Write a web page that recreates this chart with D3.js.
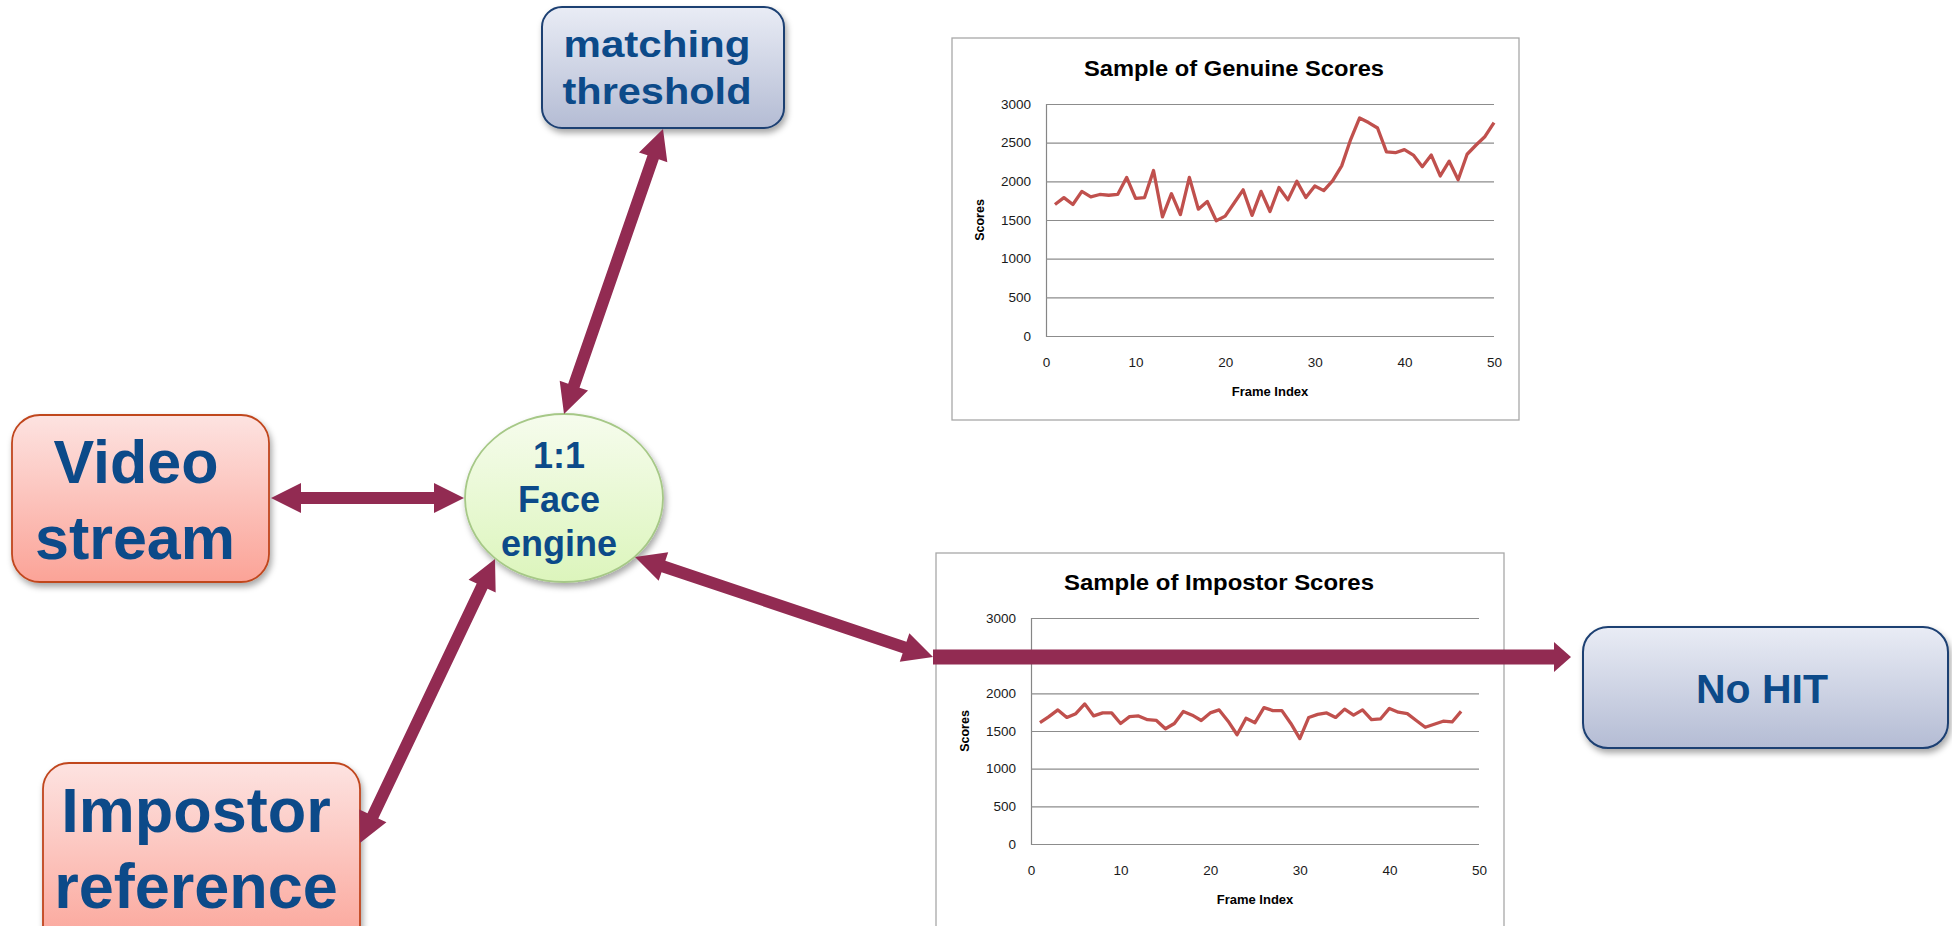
<!DOCTYPE html>
<html>
<head>
<meta charset="utf-8">
<script src="https://cdn.jsdelivr.net/npm/d3@7"></script>
<style>
  html, body { margin: 0; padding: 0; background: #fff; }
  svg { display: block; }
</style>
</head>
<body>
<svg id="chart" width="1952" height="926"></svg>
<script>
// scores per frame, frame index = position + 1
const genuineScores = [1700, 1790, 1700, 1870, 1800, 1830, 1820, 1830, 2050, 1780,
  1790, 2140, 1540, 1840, 1570, 2050, 1640, 1740, 1490, 1550,
  1720, 1890, 1560, 1870, 1610, 1920, 1760, 2000, 1790, 1940,
  1880, 2010, 2200, 2540, 2820, 2760, 2690, 2380, 2370, 2410,
  2340, 2190, 2340, 2070, 2260, 2020, 2350, 2470, 2580, 2760];

const impostorScores = [1610, 1690, 1780, 1680, 1730, 1860, 1700, 1740, 1740, 1600,
  1690, 1700, 1650, 1640, 1530, 1600, 1760, 1710, 1640, 1740,
  1780, 1630, 1450, 1670, 1610, 1810, 1770, 1770, 1600, 1400,
  1680, 1720, 1740, 1680, 1790, 1710, 1780, 1650, 1660, 1800,
  1750, 1730, 1640, 1550, 1590, 1630, 1620, 1760];

const xTicks = [0, 10, 20, 30, 40, 50];
const yTicks = [0, 500, 1000, 1500, 2000, 2500, 3000];

const ARROW = '#922b52';
const TEXT_BLUE = '#0c4a89';
const LINE_RED = '#c0504d';

const svg = d3.select('#chart');
const defs = svg.append('defs');

// градиенты для блоков схемы
const gradient = (id, top, bottom) => {
  const lg = defs.append('linearGradient').attr('id', id)
    .attr('x1', 0).attr('y1', 0).attr('x2', 0).attr('y2', 1);
  lg.append('stop').attr('offset', '0%').attr('stop-color', top);
  lg.append('stop').attr('offset', '100%').attr('stop-color', bottom);
};
gradient('gBlue', '#e9ecf5', '#b4bcd4');
gradient('gPink', '#fde3e1', '#fba397');
gradient('gGreen', '#f6fced', '#dcf5bc');

defs.append('filter').attr('id', 'shadow')
  .attr('x', '-10%').attr('y', '-10%').attr('width', '130%').attr('height', '140%')
  .append('feDropShadow')
  .attr('dx', 2).attr('dy', 4).attr('stdDeviation', 3)
  .attr('flood-color', '#000').attr('flood-opacity', 0.35);

// one excel-like line chart
const drawChart = (opt) => {
  const g = svg.append('g');

  g.append('rect')
    .attr('x', opt.box.x).attr('y', opt.box.y)
    .attr('width', opt.box.w).attr('height', opt.box.h)
    .attr('fill', '#fff').attr('stroke', '#a8a8a8').attr('stroke-width', 1.3);

  const x = d3.scaleLinear().domain([0, 50]).range([opt.left, opt.right]);
  const y = d3.scaleLinear().domain([0, 3000]).range([opt.bottom, opt.top]);

  g.append('g')
    .attr('transform', `translate(${opt.left},0)`)
    .call(d3.axisLeft(y).tickValues(yTicks).tickFormat(d3.format('d'))
      .tickSize(-(opt.right - opt.left)).tickPadding(15))
    .call(g => g.select('.domain').attr('stroke', '#868686').attr('stroke-width', 1.2))
    .call(g => g.selectAll('.tick line').attr('stroke', '#8c8c8c').attr('stroke-width', 1.1))
    .call(g => g.selectAll('.tick text')
      .attr('font-family', 'Liberation Sans, Arial, sans-serif')
      .attr('font-size', 13.5).attr('fill', '#1a1a1a'));

  g.append('g')
    .attr('transform', `translate(0,${opt.bottom})`)
    .call(d3.axisBottom(x).tickValues(xTicks).tickSize(0).tickPadding(21))
    .call(g => g.select('.domain').remove())
    .call(g => g.selectAll('.tick text')
      .attr('font-family', 'Liberation Sans, Arial, sans-serif')
      .attr('font-size', 13.5).attr('fill', '#1a1a1a'));

  g.append('path')
    .datum(opt.values)
    .attr('fill', 'none')
    .attr('stroke', LINE_RED)
    .attr('stroke-width', 3.3)
    .attr('stroke-linejoin', 'round')
    .attr('d', d3.line().x((d, i) => x(i + 1)).y(d => y(d)));

  g.append('text')
    .attr('x', opt.titleX).attr('y', opt.titleY)
    .attr('text-anchor', 'middle')
    .attr('font-family', 'Liberation Sans, Arial, sans-serif')
    .attr('font-weight', 'bold').attr('font-size', 22)
    .attr('textLength', opt.titleW).attr('lengthAdjust', 'spacingAndGlyphs')
    .text(opt.title);

  g.append('text')
    .attr('x', opt.xLabelX).attr('y', opt.xLabelY)
    .attr('text-anchor', 'middle')
    .attr('font-family', 'Liberation Sans, Arial, sans-serif')
    .attr('font-weight', 'bold').attr('font-size', 13)
    .text('Frame Index');

  g.append('text')
    .attr('transform', `translate(${opt.yLabelX},${(opt.top + opt.bottom) / 2}) rotate(-90)`)
    .attr('text-anchor', 'middle')
    .attr('dominant-baseline', 'central')
    .attr('font-family', 'Liberation Sans, Arial, sans-serif')
    .attr('font-weight', 'bold').attr('font-size', 12.5)
    .text('Scores');
};

drawChart({
  values: genuineScores, title: 'Sample of Genuine Scores',
  box: {x: 952, y: 38, w: 567, h: 382},
  left: 1046, right: 1494, top: 104, bottom: 336,
  titleX: 1234, titleY: 76, titleW: 300,
  xLabelX: 1270, xLabelY: 396, yLabelX: 980,
});

drawChart({
  values: impostorScores, title: 'Sample of Impostor Scores',
  box: {x: 936, y: 553, w: 568, h: 400},
  left: 1031, right: 1479, top: 618, bottom: 844,
  titleX: 1219, titleY: 590, titleW: 310,
  xLabelX: 1255, xLabelY: 904, yLabelX: 965,
});

// блоки схемы
const boxes = [
  {x: 542, y: 7, w: 242, h: 121, r: 20, fill: 'gBlue', stroke: '#1c3f72', sw: 2},
  {x: 1583, y: 627, w: 365, h: 121, r: 25, fill: 'gBlue', stroke: '#1c3f72', sw: 2},
  {x: 12, y: 415, w: 257, h: 167, r: 28, fill: 'gPink', stroke: '#c0461f', sw: 1.8},
  {x: 43, y: 763, w: 317, h: 190, r: 26, fill: 'gPink', stroke: '#c0461f', sw: 1.8},
];

svg.append('g').selectAll('rect')
  .data(boxes)
  .join('rect')
  .attr('x', d => d.x).attr('y', d => d.y)
  .attr('width', d => d.w).attr('height', d => d.h)
  .attr('rx', d => d.r).attr('ry', d => d.r)
  .attr('fill', d => `url(#${d.fill})`)
  .attr('stroke', d => d.stroke).attr('stroke-width', d => d.sw)
  .attr('filter', 'url(#shadow)');

svg.append('ellipse')
  .attr('cx', 564).attr('cy', 498).attr('rx', 99).attr('ry', 84)
  .attr('fill', 'url(#gGreen)')
  .attr('stroke', '#a6c887').attr('stroke-width', 1.8)
  .attr('filter', 'url(#shadow)');

const labels = [
  {text: 'matching', x: 657, y: 57, size: 36, len: 187},
  {text: 'threshold', x: 657, y: 104, size: 36, len: 189},
  {text: 'Video', x: 136, y: 483, size: 61},
  {text: 'stream', x: 135, y: 559, size: 61},
  {text: 'Impostor', x: 196, y: 832, size: 63},
  {text: 'reference', x: 196, y: 908, size: 63},
  {text: '1:1', x: 559, y: 468, size: 36},
  {text: 'Face', x: 559, y: 512, size: 36},
  {text: 'engine', x: 559, y: 556, size: 36},
  {text: 'No HIT', x: 1762, y: 703, size: 41},
];

svg.append('g').selectAll('text')
  .data(labels)
  .join('text')
  .attr('x', d => d.x).attr('y', d => d.y)
  .attr('text-anchor', 'middle')
  .attr('font-family', 'Liberation Sans, Arial, sans-serif')
  .attr('font-weight', 'bold')
  .attr('font-size', d => d.size)
  .attr('fill', TEXT_BLUE)
  .each(function (d) {
    if (d.len) d3.select(this).attr('textLength', d.len).attr('lengthAdjust', 'spacingAndGlyphs');
  })
  .text(d => d.text);

// стрелка-полигон между двумя точками
const arrowPath = ({from, to, shaft, headLen, headW, both}) => {
  const dx = to[0] - from[0], dy = to[1] - from[1];
  const L = Math.hypot(dx, dy);
  const ux = dx / L, uy = dy / L, nx = -uy, ny = ux;
  const pt = (t, s) => [from[0] + ux * t + nx * s, from[1] + uy * t + ny * s];
  const hs = shaft / 2, hw = headW / 2;
  const a = headLen, b = L - headLen;
  const pts = [];
  if (both) pts.push(pt(0, 0), pt(a, -hw), pt(a, -hs));
  else pts.push(pt(0, -hs));
  pts.push(pt(b, -hs), pt(b, -hw), pt(L, 0), pt(b, hw), pt(b, hs));
  if (both) pts.push(pt(a, hs), pt(a, hw));
  else pts.push(pt(0, hs));
  return d3.line()(pts) + 'Z';
};

const arrows = [
  {from: [663, 129], to: [564, 414], shaft: 12, headLen: 30, headW: 30, both: true},
  {from: [271, 498], to: [464, 498], shaft: 12, headLen: 30, headW: 30, both: true},
  {from: [360, 843], to: [495, 559], shaft: 12, headLen: 30, headW: 30, both: true},
  {from: [635, 557], to: [933, 657], shaft: 12, headLen: 30, headW: 30, both: true},
  {from: [933, 657], to: [1571, 657], shaft: 15, headLen: 17, headW: 30, both: false},
];

svg.append('g').selectAll('path')
  .data(arrows)
  .join('path')
  .attr('fill', ARROW)
  .attr('d', arrowPath);
</script>
</body>
</html>
